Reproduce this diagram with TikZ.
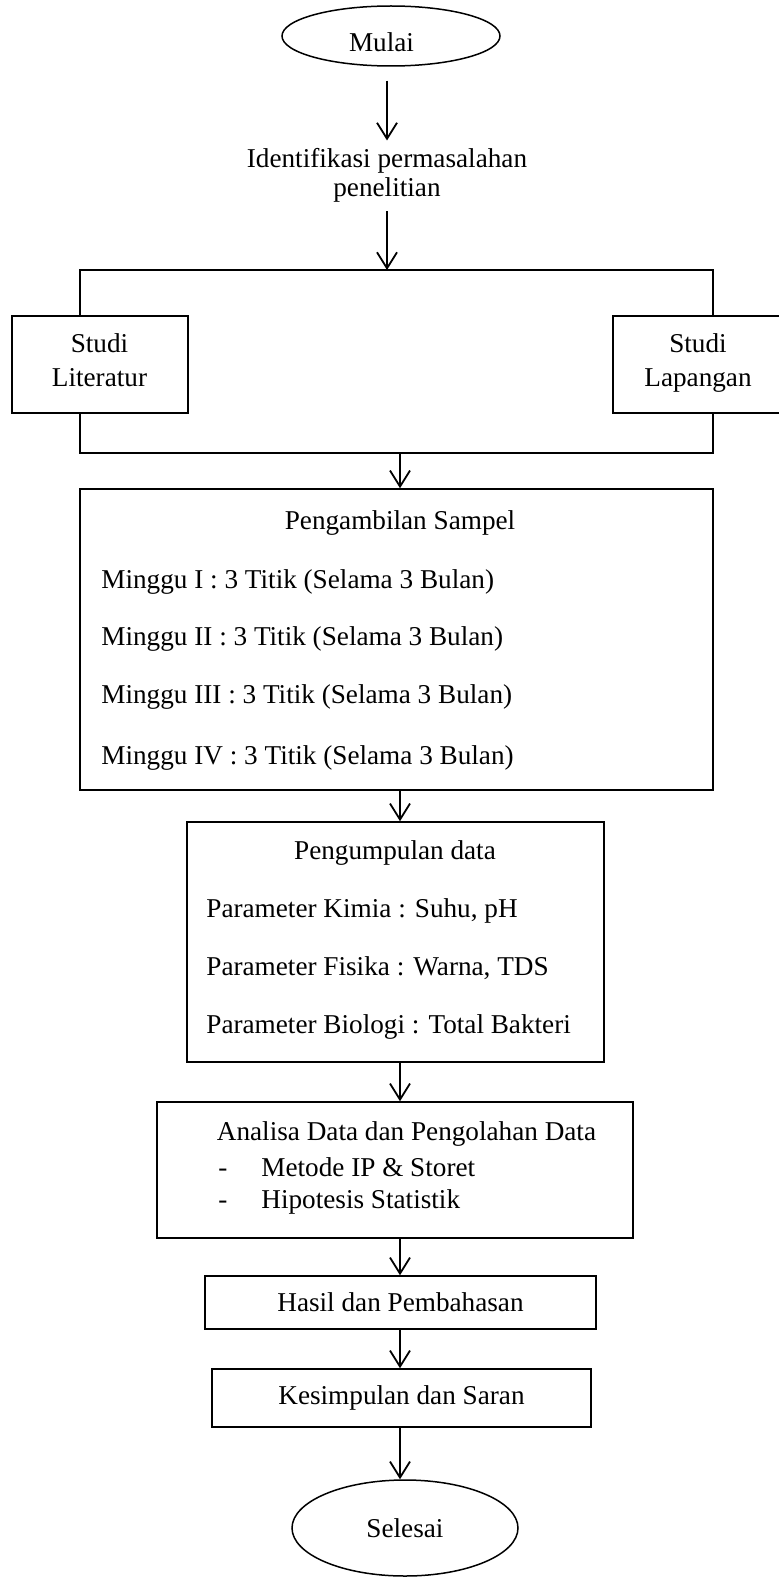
\documentclass[tikz,border=0pt]{standalone}
\usepackage{fontspec}
\setmainfont{Liberation Serif}
\usetikzlibrary{arrows.meta,shapes.geometric}
\begin{document}
\begin{tikzpicture}[x=0.5pt,y=-0.5pt,
  every node/.style={font=\fontsize{13.6pt}{15pt}\selectfont},
  box/.style={draw,line width=0.75pt,rectangle,inner sep=0pt},
  term/.style={draw,line width=0.75pt,ellipse,inner sep=0pt},
  txt/.style={anchor=base west,inner sep=0pt},
  ctxt/.style={anchor=base,inner sep=0pt},
  arr/.style={line width=0.9pt,-{Straight Barb[length=8pt,width=10pt,line width=0.9pt]}},
  branch/.style={line width=1.2pt},
]
\useasboundingbox (0,0) rectangle (779,1578);
\coordinate (axis) at (400,0);
\coordinate (tl) at (80,270);
\coordinate (tr) at (713,270);
\coordinate (bl) at (80,453);
\coordinate (br) at (713,453);

% start
\node[term,minimum width=109pt,minimum height=30pt] (mulai) at (391,36) {};
\node[ctxt] (mulaiT) at (381.5,52) {Mulai};
\node[ctxt] (ident1) at (387,168) {Identifikasi permasalahan};
\node[ctxt] (ident2) at (387,197) {penelitian};
\draw[arr] ([yshift=-7pt]mulai.south -| ident1) -- ([yshift=4pt]ident1.north);
\draw[arr] ([yshift=-4pt]ident2.south) -- (tl -| ident2);

% branch
\node[box,minimum width=88pt,minimum height=48.5pt] (lit) at (100,364.5) {};
\node[ctxt] (lit1) at (99.5,352) {Studi};
\node[ctxt] (lit2) at (99.5,386) {Literatur};
\node[box,minimum width=84pt,minimum height=48.5pt] (lap) at (697,364.5) {};
\node[ctxt] (lap1) at (698,352) {Studi};
\node[ctxt] (lap2) at (698,386) {Lapangan};
\draw[branch] (lit.north -| tl) -- (tl) -- (tr) -- (lap.north -| tr);
\draw[branch] (lit.south -| bl) -- (bl) -- (br) -- (lap.south -| br);

% sampling
\node[box,minimum width=316.5pt,minimum height=150.5pt] (samp) at (396.5,639.5) {};
\node[ctxt] (sampT) at (400,529) {Pengambilan Sampel};
\node[txt] (s1) at (101,588) {Minggu I : 3 Titik (Selama 3 Bulan)};
\node[txt] (s2) at (101,645) {Minggu II : 3 Titik (Selama 3 Bulan)};
\node[txt] (s3) at (101,703) {Minggu III : 3 Titik (Selama 3 Bulan)};
\node[txt] (s4) at (101,764) {Minggu IV : 3 Titik (Selama 3 Bulan)};
\draw[arr] (bl -| axis) -- (samp.north -| axis);

% data collection
\node[box,minimum width=208.5pt,minimum height=120pt] (kump) at (395.5,942) {};
\node[ctxt] (kumpT) at (395,859) {Pengumpulan data};
\node[txt] (k1) at (206,917) {Parameter Kimia : Suhu, pH};
\node[txt] (k2) at (206,975) {Parameter Fisika : Warna, TDS};
\node[txt] (k3) at (206,1033) {Parameter Biologi : Total Bakteri};
\draw[arr] (samp.south -| axis) -- (kump.north -| axis);

% analysis
\node[box,minimum width=238pt,minimum height=68pt] (anal) at (395,1170) {};
\node[ctxt] (analT) at (406.5,1140) {Analisa Data dan Pengolahan Data};
\node[txt] (d1) at (218,1176) {-};
\node[txt] (a1) at (261,1176) {Metode IP \& Storet};
\node[txt] (d2) at (218,1208) {-};
\node[txt] (a2) at (261,1208) {Hipotesis Statistik};
\draw[arr] (kump.south -| axis) -- (anal.north -| axis);

% results
\node[box,minimum width=195.5pt,minimum height=26.5pt] (hasil) at (400.5,1302.5) {Hasil dan Pembahasan};
\draw[arr] (anal.south -| axis) -- (hasil.north -| axis);

\node[box,minimum width=189.5pt,minimum height=29pt] (kes) at (401.5,1398) {Kesimpulan dan Saran};
\draw[arr] (hasil.south -| axis) -- (kes.north -| axis);

\node[term,minimum width=113pt,minimum height=48pt] (selesai) at (405,1528) {Selesai};
\draw[arr] (kes.south -| axis) -- (selesai.north -| axis);
\end{tikzpicture}
\end{document}
